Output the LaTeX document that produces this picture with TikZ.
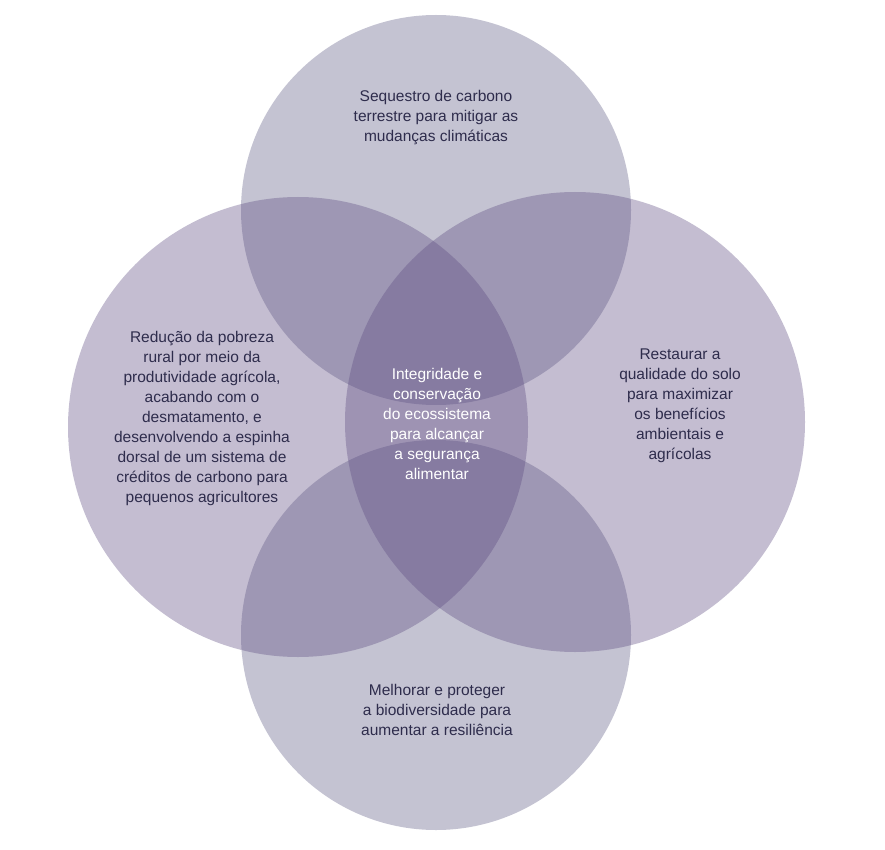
\documentclass[tikz,border=0pt]{standalone}
\usepackage{fontspec}
\setmainfont{Liberation Sans}
\definecolor{tb}{HTML}{5E5A84}
\definecolor{lr}{HTML}{5C4A80}
\definecolor{txt}{HTML}{2E2C4C}
\begin{document}
\begin{tikzpicture}[x=1pt,y=-1pt,
  circ/.style={fill=#1,fill opacity=0.36,draw=none},
  lbl/.style={text=txt,align=center,font=\fontsize{15.5}{20}\selectfont},
  clbl/.style={text=white,align=center,font=\fontsize{15.5}{20}\selectfont}]
\useasboundingbox (0,0) rectangle (885,850);
\fill[white] (0,0) rectangle (885,850);
\path[circ=tb] (436,210) circle[radius=195];
\path[circ=tb] (436,635) circle[radius=195];
\path[circ=lr] (298,427) circle[radius=230];
\path[circ=lr] (575,422) circle[radius=230];
\node[lbl] (t) at (436,118) {Sequestro de carbono\\terrestre para mitigar as\\mudanças climáticas};
\node[lbl] (l) at (202,418) {Redução da pobreza\\rural por meio da\\produtividade agrícola,\\acabando com o\\desmatamento, e\\desenvolvendo a espinha\\dorsal de um sistema de\\créditos de carbono para\\pequenos agricultores};
\node[lbl] (r) at (680,406) {Restaurar a\\qualidade do solo\\para maximizar\\os benefícios\\ambientais e\\agrícolas};
\node[lbl] (b) at (437,710) {Melhorar e proteger\\a biodiversidade para\\aumentar a resiliência};
\node[clbl] (c) at (437,424) {Integridade e\\conservação\\do ecossistema\\para alcançar\\a segurança\\alimentar};
\end{tikzpicture}
\end{document}
